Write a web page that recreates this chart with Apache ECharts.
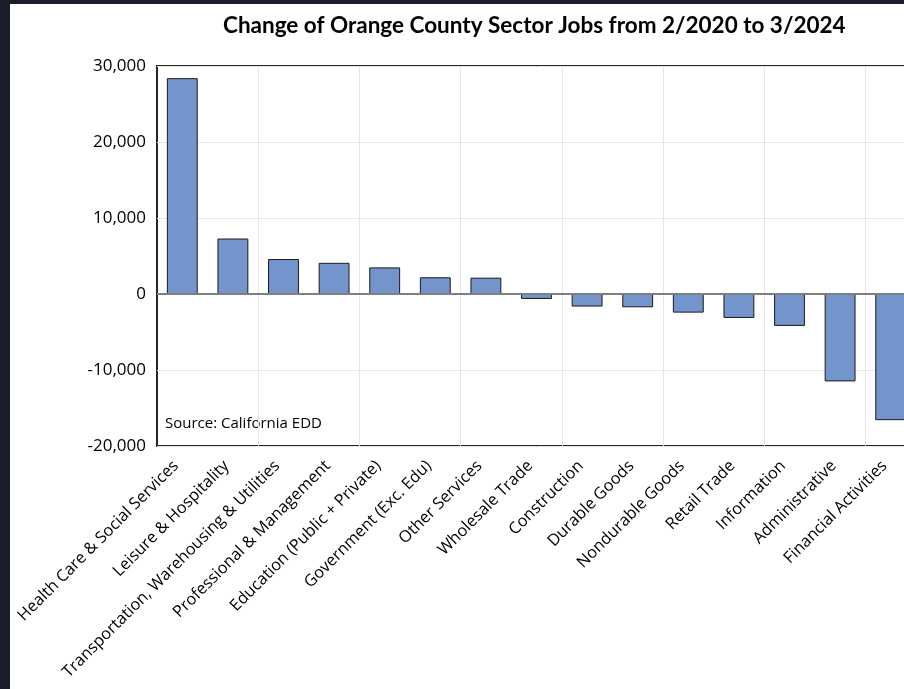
<!DOCTYPE html>
<html>
<head>
<meta charset="utf-8">
<script src="https://cdn.jsdelivr.net/npm/echarts@6/dist/echarts.min.js"></script>
<style>
  html, body { margin: 0; padding: 0; background: #1c1d2b; overflow: hidden; width: 904px; height: 689px; }
  #chart { position: absolute; left: 10px; top: 4px; width: 906px; height: 685px; background: #fff; }
</style>
</head>
<body>
<div id="chart"></div>
<script>
// sectors, sorted by change in jobs
const sectors = [
  'Health Care & Social Services', 'Leisure & Hospitality',
  'Transportation, Warehousing & Utilities', 'Professional & Management',
  'Education (Public + Private)', 'Government (Exc. Edu)', 'Other Services',
  'Wholesale Trade', 'Construction', 'Durable Goods', 'Nondurable Goods',
  'Retail Trade', 'Information', 'Administrative', 'Financial Activities'
]
const jobChange = [
  28400, 7300, 4600, 4100, 3500, 2200, 2150,
  -650, -1650, -1750, -2450, -3150, -4200, -11500, -16600
]
const yTicks = { min: -20000, max: 30000, interval: 10000 }

// the plot runs past the right edge of the window, as in the original
const chart = echarts.init(document.getElementById('chart'))
chart.setOption({
  animation: false,
  title: {
    text: 'Change of Orange County Sector Jobs from 2/2020 to 3/2024',
    left: 208,
    top: 5,
    textStyle: { fontFamily: 'Lato', fontWeight: 'bold', fontSize: 22.5, color: '#000' }
  },
  grid: {
    left: 147,
    top: 62,
    bottom: 243,
    right: 0,
    show: true,
    borderColor: '#262626',
    borderWidth: 2,
    backgroundColor: 'transparent'
  },
  xAxis: {
    type: 'category',
    data: sectors,
    axisLine: { show: false },
    axisTick: { show: false },
    axisLabel: {
      rotate: 45,
      interval: 0,
      margin: 11,
      padding: [0, 9, 0, 0],
      fontFamily: 'Open Sans',
      fontSize: 16.3,
      color: '#000'
    },
    splitLine: {
      show: true,
      interval: function (i) { return i > 0 && i % 2 === 0 },
      lineStyle: { color: '#e6e6e6', width: 1 }
    }
  },
  yAxis: {
    type: 'value',
    min: yTicks.min,
    max: yTicks.max,
    interval: yTicks.interval,
    axisLine: { show: false },
    axisTick: { show: false },
    axisLabel: {
      margin: 11,
      fontFamily: 'Open Sans',
      fontSize: 17,
      color: '#000',
      formatter: v => v.toLocaleString('en-US')
    },
    splitLine: { lineStyle: { color: '#e6e6e6', width: 1 } }
  },
  graphic: [{
    type: 'text',
    left: 155,
    top: 412,
    style: { text: 'Source: California EDD', font: '15px "Open Sans"', fill: '#000' }
  }],
  series: [{
    type: 'bar',
    data: jobChange,
    barWidth: '61%',
    itemStyle: { color: '#7395cc', borderColor: '#1a1a1a', borderWidth: 1 },
    markLine: {
      silent: true,
      symbol: 'none',
      label: { show: false },
      lineStyle: { color: '#7f7f7f', width: 2, type: 'solid' },
      data: [{ yAxis: 0 }]
    }
  }]
})
</script>
</body>
</html>
